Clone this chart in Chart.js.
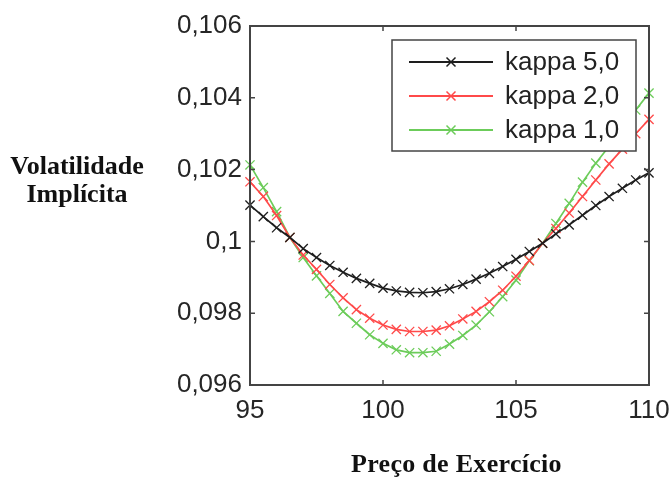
<!DOCTYPE html>
<html>
<head>
<meta charset="utf-8">
<script src="https://cdn.jsdelivr.net/npm/chart.js@4"></script>
<style>
    body { margin: 0; background: #fff; }
    #wrap { position: relative; width: 672px; height: 477px; }
    .axis-title {
        position: absolute;
        font-family: "Liberation Serif", "Times New Roman", serif;
        font-weight: bold;
        font-size: 26px;
        color: #111;
        white-space: nowrap;
    }
    #ytitle { left: 0; top: 152px; width: 154px; text-align: center; line-height: 28px; }
    #xtitle { left: 351px; top: 449px; letter-spacing: 0.3px; }
</style>
</head>
<body>
<div id="wrap">
    <canvas id="chart" width="672" height="477"></canvas>
    <div id="ytitle" class="axis-title">Volatilidade<br>Implícita</div>
    <div id="xtitle" class="axis-title">Preço de Exercício</div>
</div>
<script>
// strike prices (x)
const strikes = [95, 95.5, 96, 96.5, 97, 97.5, 98, 98.5, 99, 99.5, 100, 100.5, 101, 101.5, 102, 102.5,
    103, 103.5, 104, 104.5, 105, 105.5, 106, 106.5, 107, 107.5, 108, 108.5, 109, 109.5, 110];

// implied volatility for each kappa
const kappa5 = [0.10101, 0.10069, 0.10038, 0.10011, 0.09980, 0.09955, 0.09933, 0.09914, 0.09897, 0.09883,
    0.09870, 0.09862, 0.09858, 0.09857, 0.09860, 0.09868, 0.09880, 0.09895, 0.09911, 0.09930,
    0.09950, 0.09972, 0.09995, 0.10021, 0.10046, 0.10073, 0.10100, 0.10125, 0.10148, 0.10171, 0.10191];
const kappa2 = [0.10166, 0.10125, 0.10072, 0.10011, 0.09962, 0.09922, 0.09880, 0.09843, 0.09810, 0.09786,
    0.09767, 0.09755, 0.09749, 0.09749, 0.09753, 0.09765, 0.09784, 0.09805, 0.09832, 0.09864,
    0.09903, 0.09947, 0.09995, 0.10036, 0.10079, 0.10125, 0.10171, 0.10216, 0.10257, 0.10300, 0.10340];
const kappa1 = [0.10213, 0.10150, 0.10083, 0.10011, 0.09955, 0.09904, 0.09855, 0.09805, 0.09772, 0.09740,
    0.09716, 0.09698, 0.09690, 0.09690, 0.09694, 0.09714, 0.09738, 0.09767, 0.09804, 0.09846,
    0.09892, 0.09946, 0.09995, 0.10050, 0.10106, 0.10165, 0.10218, 0.10265, 0.10315, 0.10366, 0.10413];

const seriesLabels = ["kappa 5,0", "kappa 2,0", "kappa 1,0"];
const seriesColors = ["#1e1e1e", "#ff4a4a", "#6ccc5a"];

const xTicks = [95, 100, 105, 110];
const yTicks = [0.096, 0.098, 0.1, 0.102, 0.104, 0.106];

const tickFont = { family: "'Liberation Sans', Arial, sans-serif", size: 26 };

function makeSet(label, values, color) {
    return {
        label: label,
        data: strikes.map((s, i) => ({ x: s, y: values[i] })),
        borderColor: color,
        backgroundColor: color,
        borderWidth: 1.7,
        pointStyle: "crossRot",
        pointRadius: 6.5,
        pointBorderWidth: 1.3,
        pointBorderColor: color,
        tension: 0,
        clip: false
    };
}

// box around the plot with inward ticks on all sides
const frame = {
    id: "frame",
    afterDatasetsDraw(chart) {
        const { ctx, chartArea: a, scales: { x, y } } = chart;
        ctx.save();
        ctx.strokeStyle = "#444";
        ctx.lineWidth = 2;
        ctx.strokeRect(a.left, a.top, a.width, a.height);
        ctx.lineWidth = 1.5;
        ctx.beginPath();
        xTicks.slice(1, -1).forEach(v => {
            const px = x.getPixelForValue(v);
            ctx.moveTo(px, a.bottom); ctx.lineTo(px, a.bottom - 5);
            ctx.moveTo(px, a.top); ctx.lineTo(px, a.top + 5);
        });
        yTicks.slice(1, -1).forEach(v => {
            const py = y.getPixelForValue(v);
            ctx.moveTo(a.left, py); ctx.lineTo(a.left + 5, py);
            ctx.moveTo(a.right, py); ctx.lineTo(a.right - 5, py);
        });
        ctx.stroke();
        ctx.restore();
    }
};

// legend box inside the plot, top right
const boxLegend = {
    id: "boxLegend",
    afterDatasetsDraw(chart) {
        const { ctx, chartArea: a } = chart;
        const w = 244, h = 111;
        const left = a.right - 13 - w, top = a.top + 14;
        ctx.save();
        ctx.fillStyle = "#fff";
        ctx.fillRect(left, top, w, h);
        ctx.strokeStyle = "#444";
        ctx.lineWidth = 1.5;
        ctx.strokeRect(left, top, w, h);
        chart.data.datasets.forEach((ds, i) => {
            const cy = top + 22 + i * 34;
            ctx.strokeStyle = ds.borderColor;
            ctx.lineWidth = 1.8;
            ctx.beginPath();
            ctx.moveTo(left + 17, cy);
            ctx.lineTo(left + 101, cy);
            ctx.stroke();
            const mx = left + 59, r = 4.5;
            ctx.lineWidth = 1.5;
            ctx.beginPath();
            ctx.moveTo(mx - r, cy - r); ctx.lineTo(mx + r, cy + r);
            ctx.moveTo(mx - r, cy + r); ctx.lineTo(mx + r, cy - r);
            ctx.stroke();
            ctx.fillStyle = "#222";
            ctx.font = "26px 'Liberation Sans', Arial, sans-serif";
            ctx.textBaseline = "middle";
            ctx.fillText(ds.label, left + 113, cy + 1);
        });
        ctx.restore();
    }
};

new Chart(document.getElementById("chart"), {
    type: "line",
    data: {
        datasets: [
            makeSet(seriesLabels[0], kappa5, seriesColors[0]),
            makeSet(seriesLabels[1], kappa2, seriesColors[1]),
            makeSet(seriesLabels[2], kappa1, seriesColors[2])
        ]
    },
    options: {
        responsive: false,
        devicePixelRatio: 1,
        animation: false,
        layout: { padding: { left: 0, top: 26, right: 23, bottom: 0 } },
        plugins: {
            legend: { display: false },
            tooltip: { enabled: false }
        },
        scales: {
            x: {
                type: "linear",
                min: 95,
                max: 110,
                grid: { display: false, drawTicks: false },
                border: { display: false },
                afterBuildTicks: scale => { scale.ticks = xTicks.map(v => ({ value: v })); },
                afterFit: scale => {
                    scale.height = 92;
                    scale.paddingLeft = 0;
                    scale.paddingRight = 0;
                },
                ticks: {
                    color: "#262626",
                    font: tickFont,
                    padding: 10,
                    maxRotation: 0,
                    callback: v => String(v)
                }
            },
            y: {
                min: 0.096,
                max: 0.106,
                grid: { display: false, drawTicks: false },
                border: { display: false },
                afterBuildTicks: scale => { scale.ticks = yTicks.map(v => ({ value: v })); },
                afterFit: scale => {
                    scale.width = 250;
                    scale.paddingTop = 0;
                    scale.paddingBottom = 0;
                },
                ticks: {
                    color: "#262626",
                    font: tickFont,
                    padding: 8,
                    callback: v => String(Number(v.toFixed(3))).replace(".", ",")
                }
            }
        }
    },
    plugins: [frame, boxLegend]
});
</script>
</body>
</html>
